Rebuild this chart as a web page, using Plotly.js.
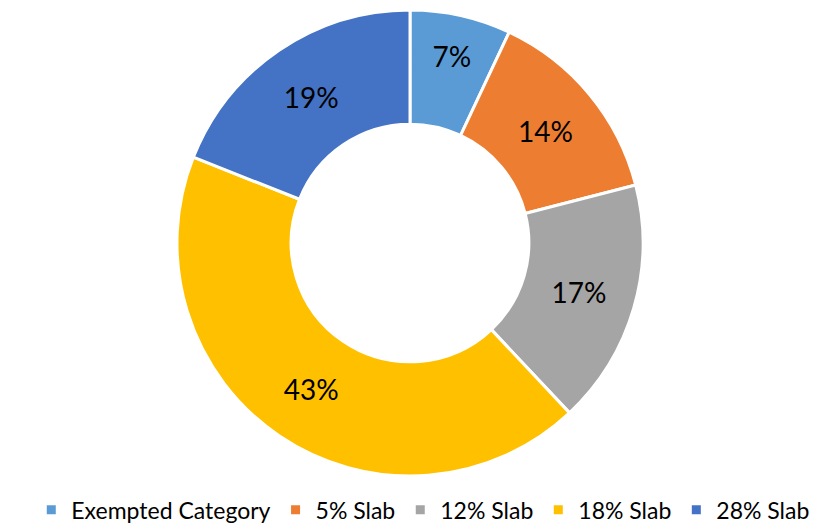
<!DOCTYPE html>
<html><head><meta charset="utf-8">
<script src="https://cdn.plot.ly/plotly-3.0.1.min.js"></script>
<style>html,body{margin:0;padding:0;background:#fff}#c{width:814px;height:525px}</style>
</head><body><div id="c"></div>
<script>
const categories = ["Exempted Category", "5% Slab", "12% Slab", "18% Slab", "28% Slab"];
const shares = [7, 14, 17, 43, 19];
const colors = ["#5B9BD5", "#ED7D31", "#A5A5A5", "#FFC000", "#4472C4"];

Plotly.newPlot("c", [{
  type: "pie",
  labels: categories,
  values: shares,
  sort: false,
  direction: "clockwise",
  rotation: 0,
  hole: 0.51,
  marker: {colors: colors, line: {color: "#ffffff", width: 3}},
  textinfo: "percent",
  texttemplate: "%{value}%",
  textposition: "inside",
  insidetextorientation: "horizontal",
  textfont: {family: "Lato, sans-serif", size: 28, color: "#000000"},
  domain: {x: [0.2174, 0.790], y: [0.0933, 0.981]}
}], {
  width: 814, height: 525,
  margin: {l: 0, r: 0, t: 0, b: 0, autoexpand: false},
  paper_bgcolor: "#ffffff",
  showlegend: true,
  legend: {orientation: "h", x: 0.52, xanchor: "center", y: -0.012, yanchor: "bottom",
    font: {family: "Lato, sans-serif", size: 23, color: "#000000"}, itemwidth: 30, tracegroupgap: 0}
}, {displayModeBar: false});
</script></body></html>
